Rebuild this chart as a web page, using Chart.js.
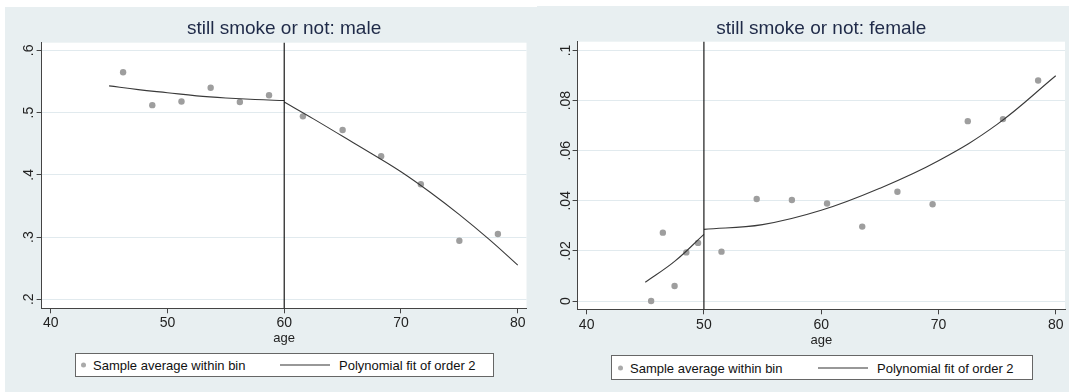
<!DOCTYPE html>
<html>
<head>
<meta charset="utf-8">
<script src="https://cdn.jsdelivr.net/npm/chart.js@4.4.1/dist/chart.umd.min.js"></script>
<style>
  body { margin: 0; width: 1069px; height: 392px; background: #fff; overflow: hidden;
         font-family: "Liberation Sans", Arial, Helvetica, sans-serif; }
  .panel { position: absolute; background: #e8eff1; }
  .panel canvas { position: absolute; left: 0; top: 0; }
  .legend { position: absolute; background: #fff; border: 1px solid #666; box-sizing: border-box;
            font-size: 13px; color: #111; }
  .legend span { position: absolute; top: 50%; transform: translateY(-50%); white-space: nowrap; }
  .legend .dot { width: 5px; height: 5px; border-radius: 50%; background: #aaa; }
  .legend .line { height: 1px; background: #333; }
</style>
</head>
<body>

<div class="panel" style="left:5px;top:7px;width:532px;height:385px">
  <canvas id="maleChart" width="532" height="385"></canvas>
  <div class="legend" style="left:70px;top:346px;width:419px;height:24px">
    <span class="dot" style="left:5px"></span>
    <span style="left:17px">Sample average within bin</span>
    <span class="line" style="left:204px;width:50px"></span>
    <span style="left:263px">Polynomial fit of order 2</span>
  </div>
</div>

<div class="panel" style="left:537px;top:6px;width:532px;height:386px">
  <canvas id="femaleChart" width="532" height="386"></canvas>
  <div class="legend" style="left:74px;top:349px;width:422px;height:25px">
    <span class="dot" style="left:6px"></span>
    <span style="left:18px">Sample average within bin</span>
    <span class="line" style="left:206px;width:50px"></span>
    <span style="left:265px">Polynomial fit of order 2</span>
  </div>
</div>

<script>
// x axis (age)
const ageTicks = [40, 50, 60, 70, 80];

// male panel
const maleBinAge   = [46.2, 48.7, 51.2, 53.7, 56.2, 58.7, 61.6, 65.0, 68.3, 71.7, 75.0, 78.3];
const maleBinShare = [0.565, 0.512, 0.518, 0.540, 0.517, 0.528, 0.494, 0.472, 0.430, 0.385, 0.294, 0.305];
const maleFitLeftAge  = [45, 47.5, 50, 52.5, 55, 57.5, 60];
const maleFitLeft     = [0.543, 0.537, 0.532, 0.527, 0.5235, 0.521, 0.5195];
const maleFitRightAge = [60, 62.5, 65, 67.5, 70, 72.5, 75, 77.5, 80];
const maleFitRight    = [0.517, 0.490, 0.462, 0.434, 0.405, 0.372, 0.336, 0.297, 0.255];
const maleYTicks  = [0.2, 0.3, 0.4, 0.5, 0.6];
const maleYLabels = ['.2', '.3', '.4', '.5', '.6'];
const maleCutoff = 60;

// female panel
const femaleBinAge   = [45.5, 46.5, 47.5, 48.5, 49.5, 51.5, 54.5, 57.5, 60.5, 63.5, 66.5, 69.5, 72.5, 75.5, 78.5];
const femaleBinShare = [0.0, 0.0273, 0.006, 0.0194, 0.0232, 0.0197, 0.0407, 0.0403, 0.0389, 0.0297, 0.0436, 0.0386, 0.0718, 0.0726, 0.0880];
const femaleFitLeftAge  = [45, 47.5, 50];
const femaleFitLeft     = [0.0075, 0.0158, 0.0266];
const femaleFitRightAge = [50, 55, 60, 65, 70, 75, 80];
const femaleFitRight    = [0.0286, 0.0305, 0.0362, 0.0450, 0.0560, 0.0705, 0.0899];
const femaleYTicks  = [0, 0.02, 0.04, 0.06, 0.08, 0.1];
const femaleYLabels = ['0', '.02', '.04', '.06', '.08', '.1'];
const femaleCutoff = 50;

const FONT = '"Liberation Sans", Arial, Helvetica, sans-serif';

function zip(xs, ys) {
    return xs.map((x, i) => ({ x: x, y: ys[i] }));
}

// white plot region on the grey panel
const plotBg = {
    id: 'plotBg',
    beforeDraw(chart) {
        const a = chart.chartArea;
        chart.ctx.save();
        chart.ctx.fillStyle = '#ffffff';
        chart.ctx.fillRect(a.left, a.top, a.right - a.left, a.bottom - a.top);
        chart.ctx.restore();
    }
};

// vertical line at the cutoff age
const cutoffLine = {
    id: 'cutoffLine',
    afterDatasetsDraw(chart, args, opts) {
        const ctx = chart.ctx;
        const a = chart.chartArea;
        const x = chart.scales.x.getPixelForValue(opts.value);
        ctx.save();
        ctx.strokeStyle = '#1a1a1a';
        ctx.lineWidth = 1.2;
        ctx.beginPath();
        ctx.moveTo(x, a.top);
        ctx.lineTo(x, a.bottom);
        ctx.stroke();
        ctx.restore();
    }
};

function fitLine(data) {
    return {
        data: data,
        showLine: true,
        borderColor: '#3a3a3a',
        borderWidth: 1.1,
        pointRadius: 0,
        tension: 0.4
    };
}

function buildChart(id, cfg) {
    return new Chart(document.getElementById(id), {
        type: 'scatter',
        data: {
            datasets: [
                fitLine(zip(cfg.fitLeftAge, cfg.fitLeft)),
                fitLine(zip(cfg.fitRightAge, cfg.fitRight)),
                {
                    data: zip(cfg.binAge, cfg.binShare),
                    pointRadius: 3.2,
                    pointBackgroundColor: '#9e9e9e',
                    pointBorderWidth: 0
                }
            ]
        },
        options: {
            responsive: false,
            animation: false,
            layout: { padding: { left: 0, right: cfg.padRight, top: 0, bottom: 0 } },
            plugins: {
                legend: { display: false },
                tooltip: { enabled: false },
                title: {
                    display: true,
                    text: cfg.title,
                    fullSize: false,
                    color: '#1f2a48',
                    font: { family: FONT, size: 19, weight: 'normal', lineHeight: 1.2 },
                    padding: { top: cfg.titleTop, bottom: cfg.titleBottom }
                },
                cutoffLine: { value: cfg.cutoff }
            },
            scales: {
                x: {
                    type: 'linear',
                    min: cfg.xMin,
                    max: cfg.xMax,
                    afterBuildTicks: s => { s.ticks = ageTicks.map(v => ({ value: v })); },
                    afterFit: s => { s.height = cfg.xHeight; },
                    grid: { drawOnChartArea: false, tickLength: 5, tickColor: '#444' },
                    border: { color: '#444', width: 1 },
                    ticks: { color: '#222', font: { family: FONT, size: 14 }, padding: cfg.xTickPad, maxRotation: 0 },
                    title: {
                        display: true,
                        text: 'age',
                        color: '#222',
                        font: { family: FONT, size: 13 },
                        padding: { top: 0, bottom: cfg.agePad }
                    }
                },
                y: {
                    type: 'linear',
                    min: cfg.yMin,
                    max: cfg.yMax,
                    afterBuildTicks: s => { s.ticks = cfg.yTicks.map(v => ({ value: v })); },
                    afterFit: s => { s.width = cfg.yWidth; },
                    grid: { color: '#e1eaee', tickLength: 5, tickColor: '#444' },
                    border: { color: '#444', width: 1 },
                    ticks: {
                        color: '#222',
                        font: { family: FONT, size: 14 },
                        minRotation: 90,
                        maxRotation: 90,
                        crossAlign: 'center',
                        padding: cfg.yTickPad,
                        callback: v => cfg.yLabels[cfg.yTicks.indexOf(v)]
                    }
                }
            }
        },
        plugins: [plotBg, cutoffLine]
    });
}

buildChart('maleChart', {
    title: 'still smoke or not: male',
    binAge: maleBinAge, binShare: maleBinShare,
    fitLeftAge: maleFitLeftAge, fitLeft: maleFitLeft,
    fitRightAge: maleFitRightAge, fitRight: maleFitRight,
    yTicks: maleYTicks, yLabels: maleYLabels, cutoff: maleCutoff,
    xMin: 39.22, xMax: 80.75, yMin: 0.1855, yMax: 0.6124,
    yWidth: 36.6, padRight: 10.5, titleTop: 10.6, titleBottom: 2.3,
    xHeight: 83.7, xTickPad: 1.2, agePad: 46.2, yTickPad: 1.8
});

buildChart('femaleChart', {
    title: 'still smoke or not: female',
    binAge: femaleBinAge, binShare: femaleBinShare,
    fitLeftAge: femaleFitLeftAge, fitLeft: femaleFitLeft,
    fitRightAge: femaleFitRightAge, fitRight: femaleFitRight,
    yTicks: femaleYTicks, yLabels: femaleYLabels, cutoff: femaleCutoff,
    xMin: 39.23, xMax: 80.79, yMin: -0.0033, yMax: 0.1035,
    yWidth: 40.6, padRight: 3, titleTop: 11.6, titleBottom: 1.3,
    xHeight: 82.7, xTickPad: 2.5, agePad: 44.2, yTickPad: -2.9
});
</script>
</body>
</html>
